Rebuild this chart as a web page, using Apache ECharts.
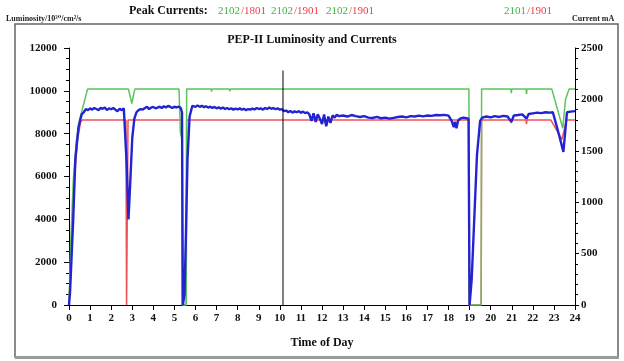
<!DOCTYPE html>
<html>
<head>
<meta charset="utf-8">
<script src="https://cdn.jsdelivr.net/npm/echarts@6/dist/echarts.min.js"></script>
<style>
html,body{margin:0;padding:0;background:#fff;}
#chart{width:624px;height:361px;}
</style>
</head>
<body>
<div id="chart"></div>
<script>
// ---- data (hour of day, value) ----
var hourTicks = [0,1,2,3,4,5,6,7,8,9,10,11,12,13,14,15,16,17,18,19,20,21,22,23,24];
var lumTicks = [0,2000,4000,6000,8000,10000,12000];
var currentTicks = [0,500,1000,1500,2000,2500];

var luminosity = [
 [0,0],[0.05,600],[0.12,2200],[0.2,4000],[0.3,6800],[0.45,8300],[0.6,8900],[0.7,9000],[0.8,9150],[0.9,9100],
 [1.0,9180],[1.1,9120],[1.2,9200],[1.3,9150],[1.4,9100],[1.5,9200],[1.6,9160],[1.7,9220],[1.8,9100],[1.9,9180],
 [2.0,9140],[2.1,9200],[2.2,9120],[2.3,9050],[2.4,9160],[2.5,9100],[2.6,9180],[2.68,9120],
 [2.74,6500],[2.82,4000],[2.9,5600],[3.0,7800],[3.1,8700],[3.2,9000],[3.3,9100],[3.4,9150],[3.5,9120],[3.6,9200],
 [3.7,9250],[3.8,9150],[3.9,9220],[4.0,9250],[4.1,9180],[4.2,9220],[4.3,9260],[4.4,9200],[4.5,9280],[4.6,9220],
 [4.7,9300],[4.8,9250],[4.9,9200],[5.0,9260],[5.1,9220],[5.2,9270],[5.3,9200],[5.36,9000],[5.4,0],[5.48,500],
 [5.55,3500],[5.62,6800],[5.72,8800],[5.85,9300],
 [6.0,9250],[6.1,9320],[6.2,9250],[6.3,9300],[6.4,9240],[6.5,9280],[6.6,9220],[6.7,9260],[6.8,9200],[6.9,9250],
 [7.0,9180],[7.1,9230],[7.2,9170],[7.3,9220],[7.4,9150],[7.5,9200],[7.6,9140],[7.7,9180],[7.8,9120],[7.9,9170],
 [8.0,9130],[8.1,9180],[8.2,9120],[8.3,9160],[8.4,9100],[8.5,9150],[8.6,9120],[8.7,9170],[8.8,9130],[8.9,9200],
 [9.0,9150],[9.1,9180],[9.2,9120],[9.3,9200],[9.4,9150],[9.5,9220],[9.6,9160],[9.7,9200],[9.8,9140],[9.9,9180],
 [10.0,9120],[10.1,9150],[10.2,9050],[10.3,9080],[10.4,9000],[10.5,9060],[10.6,8980],[10.7,9040],[10.8,9000],
 [10.9,9050],[11.0,8980],[11.1,9030],[11.2,8960],[11.3,9000],[11.4,8900],[11.5,8600],[11.6,8950],[11.7,8550],
 [11.8,8900],[11.9,8700],[12.0,8450],[12.1,8900],[12.2,8350],[12.3,8800],[12.4,8500],[12.5,8850],[12.6,8750],
 [12.7,8880],[12.8,8820],[13.0,8850],[13.2,8800],[13.4,8870],[13.6,8820],[13.8,8780],[14.0,8820],[14.2,8750],
 [14.4,8730],[14.6,8780],[14.8,8720],[15.0,8750],[15.2,8700],[15.4,8740],[15.6,8780],[15.8,8800],[16.0,8760],
 [16.2,8820],[16.4,8800],[16.6,8840],[16.8,8810],[17.0,8850],[17.2,8830],[17.4,8870],[17.6,8860],[17.8,8880],
 [18.0,8840],[18.15,8600],[18.25,8300],[18.3,8550],[18.38,8250],[18.45,8600],[18.55,8700],[18.7,8750],[18.85,8720],
 [18.95,8700],[19.0,0],[19.1,1200],[19.2,3500],[19.35,7000],[19.5,8600],[19.6,8750],
 [19.8,8800],[20.0,8760],[20.2,8820],[20.4,8780],[20.6,8830],[20.8,8800],[20.98,8550],[21.1,8850],[21.3,8870],
 [21.5,8900],[21.7,8700],[21.8,8920],[22.0,8950],[22.2,8980],[22.4,8960],[22.6,9000],[22.8,8980],[22.95,9000],
 [23.2,8100],[23.45,7150],[23.62,9000],[23.8,9030],[24.0,9050]
];

var herCurrent = [
 [0,0],[0.08,600],[0.2,1200],[0.35,1600],[0.5,1800],[0.88,2100],[2.82,2100],[2.98,1960],[3.12,2100],
 [5.22,2100],[5.28,1680],[5.36,1610],[5.38,0],[5.56,0],[5.58,2100],[6.74,2100],[6.76,2075],[6.78,2100],
 [7.6,2100],[7.63,2080],[7.66,2100],[18.97,2100],[18.98,0],[19.55,0],[19.57,2100],[20.96,2100],[20.98,2060],
 [21.0,2100],[21.68,2100],[21.7,2050],[21.72,2100],[22.9,2100],[23.42,1720],[23.55,2000],[23.72,2100],[24,2100]
];

var lerCurrent = [
 [0,0],[0.1,500],[0.25,1200],[0.4,1600],[0.55,1780],[0.62,1800],[2.7,1800],[2.73,0],[2.78,0],[2.8,1800],
 [5.36,1800],[5.38,0],[5.56,0],[5.58,1800],[12.1,1800],[12.2,1750],[12.3,1800],[18.96,1800],[18.98,0],
 [19.55,0],[19.57,1800],[20.96,1800],[20.98,1770],[21.0,1800],[21.68,1800],[21.7,1760],[21.72,1800],
 [22.85,1800],[23.38,1610],[23.6,1800],[24,1800]
];

var markerLine = [[10.15,0],[10.15,10950]];

var peakLabels = [
 {her:'2102', ler:'/1801', x:218},
 {her:'2102', ler:'/1901', x:271},
 {her:'2102', ler:'/1901', x:326},
 {her:'2101', ler:'/1901', x:504}
];

var serif = '"Liberation Serif", "DejaVu Serif", serif';
var chart = echarts.init(document.getElementById('chart'), null, {renderer:'canvas'});

var graphics = [
 {type:'rect', shape:{x:15, y:24, width:603, height:333}, style:{fill:'none', stroke:'#666', lineWidth:1.5}, z:0},
 {type:'rect', shape:{x:15, y:356, width:604, height:3}, style:{fill:'#9a9a9a'}, z:0},
 {type:'text', left:6, top:15, style:{text:'Luminosity/10³⁰/cm²/s', font:'bold 8px '+serif, fill:'#222'}},
 {type:'text', left:572, top:15, style:{text:'Current mA', font:'bold 8px '+serif, fill:'#222'}},
 {type:'text', left:'center', top:34, style:{text:'PEP-II Luminosity and Currents', font:'bold 12px '+serif, fill:'#111'}},
 {type:'text', left:129, top:5, style:{text:'Peak Currents:', font:'bold 12px '+serif, fill:'#111'}}
];
peakLabels.forEach(function(p){
  graphics.push({type:'text', left:p.x, top:6, style:{text:p.her, font:'11px '+serif, fill:'#3fb24a'}});
  graphics.push({type:'text', left:p.x+23, top:6, style:{text:p.ler, font:'11px '+serif, fill:'#ee3b47'}});
});

var labelStyle = {fontFamily:serif, fontWeight:'bold', color:'#111'};

chart.setOption({
  animation:false,
  backgroundColor:'#fff',
  grid:{left:69, right:49, top:48, bottom:56},
  graphic: graphics,
  xAxis:{
    type:'value', min:0, max:24, interval:1,
    axisLine:{lineStyle:{color:'#000', width:1}},
    axisTick:{length:5, lineStyle:{color:'#000'}},
    axisLabel:Object.assign({fontSize:11, margin:8, formatter:function(v){return hourTicks.indexOf(v)>=0?String(v):'';}}, labelStyle),
    splitLine:{show:false},
    name:'Time of Day', nameLocation:'middle', nameGap:32,
    nameTextStyle:{fontFamily:serif, fontWeight:'bold', fontSize:12, color:'#111'}
  },
  yAxis:[{
    type:'value', min:0, max:12000, interval:2000, position:'left',
    axisLine:{show:true, lineStyle:{color:'#000', width:1}},
    axisTick:{show:true, length:5, lineStyle:{color:'#000'}},
    minorTick:{show:true, splitNumber:4, length:3, lineStyle:{color:'#000'}},
    axisLabel:Object.assign({fontSize:11, margin:12, formatter:function(v){return lumTicks.indexOf(v)>=0?String(v):'';}}, labelStyle),
    splitLine:{show:false}
  },{
    type:'value', min:0, max:2500, interval:500, position:'right',
    axisLine:{show:true, lineStyle:{color:'#000', width:1}},
    axisTick:{show:true, length:4, lineStyle:{color:'#000'}},
    minorTick:{show:true, splitNumber:5, length:3, lineStyle:{color:'#000'}},
    axisLabel:Object.assign({fontSize:11, margin:6, formatter:function(v){return currentTicks.indexOf(v)>=0?String(v):'';}}, labelStyle),
    splitLine:{show:false}
  }],
  series:[
    {name:'LER', type:'line', yAxisIndex:1, data:lerCurrent, showSymbol:false, lineStyle:{color:'#f0505a', width:1.5}, z:2},
    {name:'HER', type:'line', yAxisIndex:1, data:herCurrent, showSymbol:false, lineStyle:{color:'#5cc45c', width:1.5}, z:3},
    {name:'Luminosity', type:'line', yAxisIndex:0, data:luminosity, showSymbol:false, lineStyle:{color:'#2323d2', width:2.4}, z:4},
    {name:'Now', type:'line', yAxisIndex:0, data:markerLine, showSymbol:false, lineStyle:{color:'#000', width:1}, z:5}
  ]
});
</script>
</body>
</html>
